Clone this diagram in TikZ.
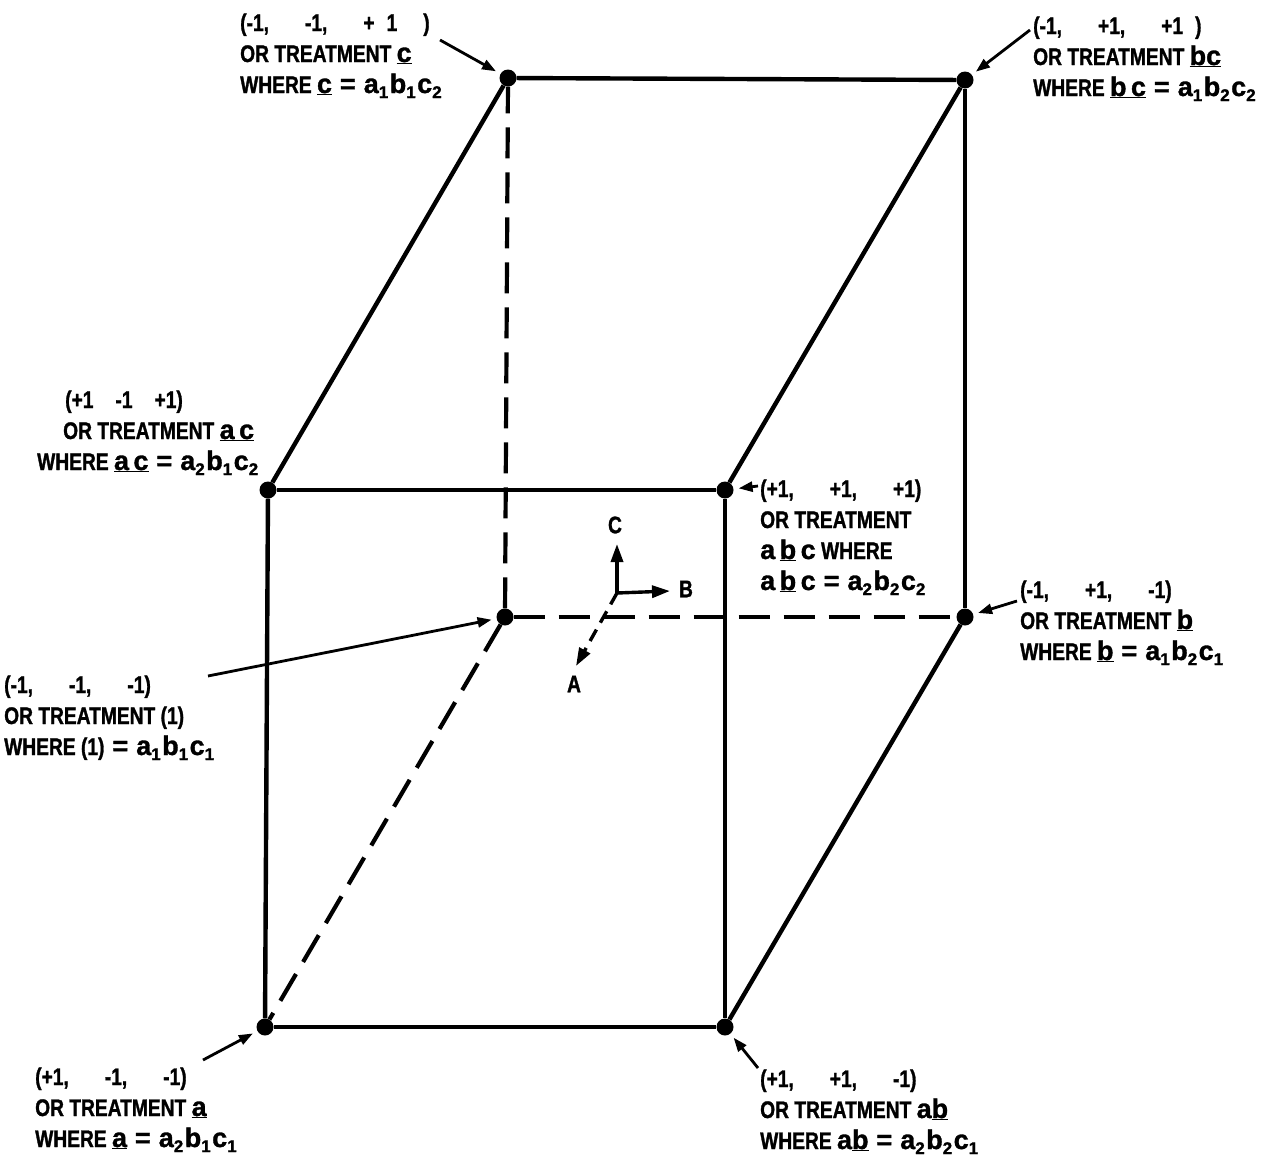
\documentclass[tikz,border=0pt]{standalone}
\usepackage{fontspec}
\setmainfont{Liberation Sans}[FakeStretch=0.8,BoldFeatures={FakeBold=1.2}]
\newfontfamily\lwf{Liberation Sans}[FakeStretch=1.0,BoldFeatures={FakeBold=1.2}]
\usetikzlibrary{arrows.meta}
\newcommand\sbx[1]{\raisebox{-0.4ex}{\lwf\bfseries\fontsize{17}{17}\selectfont #1}\kern1.5pt}
\newcommand\lw[1]{{\lwf\bfseries\fontsize{27}{27}\selectfont #1}}
\newcommand\eqs{\hspace{8pt}\lw{=}\hspace{8pt}}
\newcommand\gp{\enspace\quad}
\begin{document}
\begin{tikzpicture}[x=1pt,y=-1pt,
  dot/.style={circle,fill=black,inner sep=0pt,minimum size=17pt},
  edge/.style={line width=4.4pt},
  hidden/.style={line width=4.2pt,dash pattern=on 31pt off 14pt},
  leader/.style={line width=2.8pt,-{Triangle[length=14pt,width=10pt]},shorten >=5pt},
  lab/.style={anchor=base west,inner sep=0pt,align=left,font=\bfseries\fontsize{24}{31}\selectfont},
  axlab/.style={inner sep=0pt,font=\bfseries\fontsize{24}{24}\selectfont},
  axis/.style={line width=3.4pt,-{Triangle[length=18pt,width=12pt]}}]
\useasboundingbox (0,0) rectangle (1279,1173);
% vertices
\node[dot] (c)   at (508,78)  {};
\node[dot] (bc)  at (965,80)  {};
\node[dot] (ac)  at (268,490) {};
\node[dot] (abc) at (725,490) {};
\node[dot] (one) at (505,617) {};
\node[dot] (b)   at (965,617) {};
\node[dot] (a)   at (265,1027) {};
\node[dot] (ab)  at (725,1027) {};
% solid edges
\draw[edge] (c) -- (bc);
\draw[edge] (c) -- (ac);
\draw[edge] (bc) -- (abc);
\draw[edge] (bc) -- (b);
\draw[edge] (ac) -- (abc);
\draw[edge] (ac) -- (a);
\draw[edge] (abc) -- (ab);
\draw[edge] (a) -- (ab);
\draw[edge] (b) -- (ab);
% hidden edges
\draw[hidden] (one) -- (c);
\draw[hidden] (one) -- (b);
\draw[hidden] (one) -- (a);
% leader start points
\coordinate (lc)   at (440,40);
\coordinate (lbc)  at (1030,30);
\coordinate (labc) at (758,486);
\coordinate (lb)   at (1017,601);
\coordinate (lone) at (208,676);
\coordinate (la)   at (203,1060);
\coordinate (lab)  at (758,1068);
\draw[leader] (lc) -- (c);
\draw[leader] (lbc) -- (bc);
\draw[leader] (labc) -- (abc);
\draw[leader] (lb) -- (b);
\draw[leader] (lone) -- (one);
\draw[leader] (la) -- (a);
\draw[leader] (lab) -- (ab);
% labels (base anchor = baseline of last line)
\node[lab] (tc) at (240,93) {(-1,\gp -1,\gp +\enspace1\hspace{26pt})\\OR TREATMENT \underline{\lw{c}}\\WHERE \underline{\lw{c}}\eqs\lw{a}\sbx1\lw{b}\sbx1\lw{c}\sbx2};
\node[lab] (tbc) at (1033,96) {(-1,\gp +1,\gp +1\enspace)\\OR TREATMENT \underline{\lw{bc}}\\WHERE \underline{\lw{b\,c}}\eqs\lw{a}\sbx1\lw{b}\sbx2\lw{c}\sbx2};
\node[lab] (tac) at (37,470) {\hspace*{28pt}(+1\hspace{22pt}-1\hspace{22pt}+1)\\\hspace*{26pt}OR TREATMENT \underline{\lw{a\,c}}\\WHERE \underline{\lw{a\,c}}\eqs\lw{a}\sbx2\lw{b}\sbx1\lw{c}\sbx2};
\node[lab] (tabc) at (760,590) {(+1,\gp +1,\gp +1)\\OR TREATMENT\\\lw{a\,\underline{b}\,c} WHERE\\\lw{a\,\underline{b}\,c}\eqs\lw{a}\sbx2\lw{b}\sbx2\lw{c}\sbx2};
\node[lab] (tb) at (1020,660) {(-1,\gp +1,\gp -1)\\OR TREATMENT \underline{\lw{b}}\\WHERE \underline{\lw{b}}\eqs\lw{a}\sbx1\lw{b}\sbx2\lw{c}\sbx1};
\node[lab] (tone) at (4,755) {(-1,\gp -1,\gp -1)\\OR TREATMENT (1)\\WHERE (1)\eqs\lw{a}\sbx1\lw{b}\sbx1\lw{c}\sbx1};
\node[lab] (ta) at (35,1147) {(+1,\gp -1,\gp -1)\\OR TREATMENT \underline{\lw{a}}\\WHERE \underline{\lw{a}}\eqs\lw{a}\sbx2\lw{b}\sbx1\lw{c}\sbx1};
\node[lab] (tab) at (760,1149) {(+1,\gp +1,\gp -1)\\OR TREATMENT \lw{a\underline{b}}\\WHERE \lw{a\underline{b}}\eqs\lw{a}\sbx2\lw{b}\sbx2\lw{c}\sbx1};
% axes
\coordinate (o) at (617,593);
\coordinate (ctip) at (617,544);
\coordinate (btip) at (670,591);
\coordinate (atip) at (576,666);
\draw[axis] (o) -- (ctip);
\draw[axis] (o) -- (btip);
\draw[axis,dash pattern=on 13pt off 8pt] (o) -- (atip);
\node[axlab] (C) at (615,525) {C};
\node[axlab] (B) at (686,589) {B};
\node[axlab] (A) at (574,684) {A};
\end{tikzpicture}
\end{document}
